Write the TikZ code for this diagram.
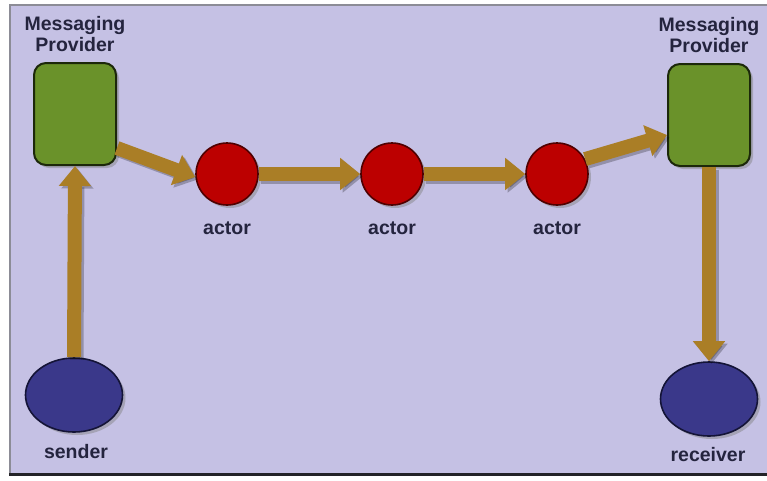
\documentclass[tikz,border=0pt]{standalone}
\usepackage{fontspec}
\setmainfont{Liberation Sans}
\usetikzlibrary{arrows.meta,shadows,shapes.geometric}
\definecolor{bgc}{RGB}{197,193,228}
\definecolor{framec}{RGB}{140,140,150}
\definecolor{framedark}{RGB}{35,35,40}
\definecolor{greenc}{RGB}{106,146,42}
\definecolor{greenrim}{RGB}{28,40,10}
\definecolor{redc}{RGB}{188,0,0}
\definecolor{redrim}{RGB}{80,0,0}
\definecolor{bluec}{RGB}{58,56,138}
\definecolor{bluerim}{RGB}{20,20,55}
\definecolor{arrowc}{RGB}{170,126,38}
\definecolor{txtc}{RGB}{36,36,62}
\tikzset{
  provider/.style={draw=greenrim, line width=2pt, fill=greenc, rounded corners=12pt,
    minimum width=82pt, minimum height=102pt, inner sep=0pt,
    drop shadow={shadow xshift=3pt, shadow yshift=-3pt, opacity=0.45}},
  actor/.style={circle, draw=redrim, line width=1.6pt, fill=redc, minimum size=62pt, inner sep=0pt,
    drop shadow={shadow xshift=3pt, shadow yshift=-3pt, opacity=0.45}},
  endpoint/.style={ellipse, draw=bluerim, line width=1.6pt, fill=bluec, minimum width=97pt,
    minimum height=74pt, inner sep=0pt,
    drop shadow={shadow xshift=3pt, shadow yshift=-3pt, opacity=0.45}},
  lbl/.style={text=txtc, font=\fontsize{19.5}{20.5}\selectfont\bfseries, align=center, inner sep=0pt},
  flowshadow/.style={line width=14pt, draw=black, opacity=0.25, -{Triangle[width=31pt,length=20pt]},
    transform canvas={xshift=2.5pt, yshift=-2.5pt}},
  flow/.style={line width=14pt, draw=arrowc, -{Triangle[width=31pt,length=20pt]}},
}
\begin{document}
\begin{tikzpicture}[x=1pt,y=-1pt]
\useasboundingbox (0,0) rectangle (767,480);
\clip (0,0) rectangle (767,480);
\fill[white] (0,0) rectangle (767,480);
\fill[bgc] (10,5) rectangle (780,474);
\draw[framec, line width=1.5pt] (10,474) -- (10,5) -- (780,5);
\draw[framedark, line width=3pt] (9,474.5) -- (780,474.5);

\node[provider] (lbox) at (75,114) {};
\node[provider] (rbox) at (709,115) {};
\node[actor] (a1) at (227,174) {};
\node[actor] (a2) at (392,174) {};
\node[actor] (a3) at (557,174) {};
\node[endpoint] (snd) at (74,395) {};
\node[endpoint] (rcv) at (709,399) {};

\node[lbl] (lboxt) at (75,34) {Messaging\\Provider};
\node[lbl] (rboxt) at (709,35) {Messaging\\Provider};
\node[lbl] (a1t) at (227,228) {actor};
\node[lbl] (a2t) at (392,228) {actor};
\node[lbl] (a3t) at (557,228) {actor};
\node[lbl] (sndt) at (76,452) {sender};
\node[lbl] (rcvt) at (708,455) {receiver};

\foreach \s in {flowshadow, flow}{
  \draw[\s] ([yshift=-34pt]lbox.east) -- ([yshift=-3pt]a1.west);
  \draw[\s] (a1.east) -- (a2.west);
  \draw[\s] (a2.east) -- (a3.west);
  \draw[\s] (a3.28) -- ([yshift=-20pt]rbox.west);
  \draw[\s] (snd.north) -- (lbox.south);
  \draw[\s] (rbox.south) -- (rcv.north);
}
\end{tikzpicture}
\end{document}
